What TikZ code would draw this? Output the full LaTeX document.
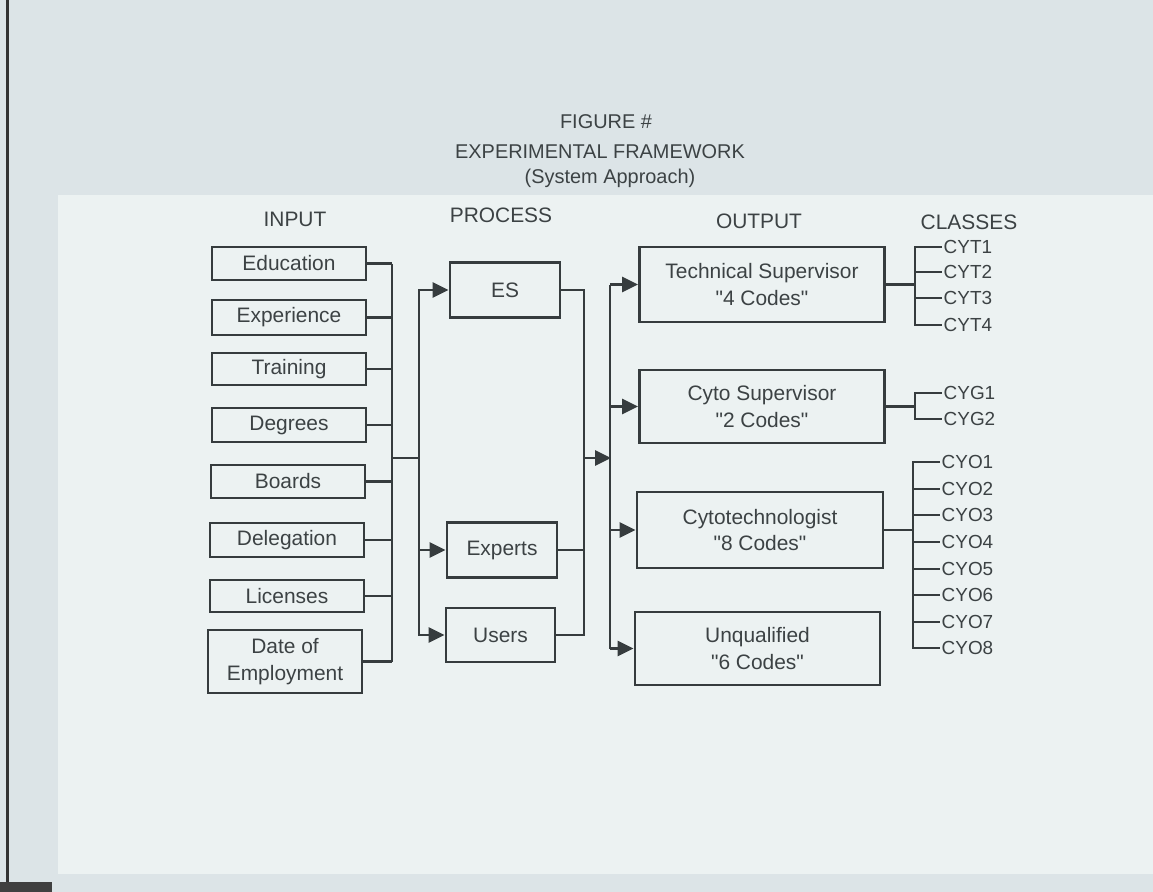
\documentclass[tikz,border=0pt]{standalone}
\usepackage{fontspec}
\setmainfont{Liberation Sans}
\usetikzlibrary{arrows.meta}
\definecolor{ink}{HTML}{363C3E}
\definecolor{txt}{HTML}{3C4244}
\definecolor{paperA}{HTML}{DCE4E7}
\definecolor{paperB}{HTML}{ECF2F2}
\newcommand{\qq}[1]{\textquotedbl#1\textquotedbl}
\begin{document}
\begin{tikzpicture}[x=1bp,y=-1bp,
  box/.style={draw=ink,line width=2.8bp,text=txt,align=center,inner sep=0pt,font=\fontsize{21}{27}\selectfont},
  hdr/.style={text=txt,inner sep=0pt,font=\fontsize{21}{25}\selectfont},
  ttl/.style={text=txt,inner sep=0pt,font=\fontsize{20}{24}\selectfont},
  cls/.style={text=txt,anchor=west,inner sep=1.5bp,font=\fontsize{19}{22}\selectfont},
  ln/.style={draw=ink,line width=2.8bp},
  arr/.style={ln,-{Triangle[length=16bp,width=15bp]}}]
\useasboundingbox (0,0) rectangle (1153,892);
% paper
\fill[paperA] (0,0) rectangle (1153,892);
\fill[paperB] (58,195) rectangle (1153,874);
\fill[black!80] (6,0) rectangle (9,882);
\fill[black!75] (0,882) rectangle (52,892);

% title
\node[ttl] (fig) at (606,122) {FIGURE \#};
\node[ttl] (exp) at (600,152) {EXPERIMENTAL FRAMEWORK};
\node[ttl] (sys) at (610,178) {(System Approach)};

% headers
\node[hdr] (hin) at (295,219) {INPUT};
\node[hdr] (hpr) at (501,215) {PROCESS};
\node[hdr] (hout) at (759,221) {OUTPUT};
\node[hdr] (hcl) at (969,222) {CLASSES};

% inputs
\node[box,minimum width=154bp,minimum height=33bp] (edu) at (289,263.5) {Education};
\node[box,minimum width=154bp,minimum height=35bp] (expe) at (289,317.5) {Experience};
\node[box,minimum width=154bp,minimum height=32bp] (trn) at (289,369) {Training};
\node[box,minimum width=154bp,minimum height=34bp] (deg) at (289,425) {Degrees};
\node[box,minimum width=154bp,minimum height=33bp] (brd) at (288,481.5) {Boards};
\node[box,minimum width=154bp,minimum height=34bp] (del) at (287,540) {Delegation};
\node[box,minimum width=154bp,minimum height=32bp] (lic) at (287,596) {Licenses};
\node[box,minimum width=154bp,minimum height=63bp] (doe) at (285,661.5) {Date of\\Employment};

\coordinate (bus) at (392,0);
\foreach \n in {edu,expe,trn,deg,brd,del,lic,doe}{
  \draw[ln] (\n.east) -- (\n.east -| bus);
}
\draw[ln] (edu.east -| bus) -- (doe.east -| bus);
\coordinate (j1) at (392,458);
\coordinate (j2) at (419,458);
\draw[ln] (j1) -- (j2);

% process
\node[box,minimum width=110bp,minimum height=55bp] (es) at (505,290) {ES};
\node[box,minimum width=110bp,minimum height=55bp] (xp) at (502,550) {Experts};
\node[box,minimum width=109bp,minimum height=54bp] (us) at (500.5,635) {Users};

\draw[arr] (j2) |- (es.west);
\draw[arr] (j2) |- (us.west);
\draw[arr] (j2 |- xp.west) -- (xp.west);

\coordinate (pb) at (584,0);
\draw[ln] (es.east) -| (pb |- us.east) -- (us.east);
\draw[ln] (xp.east) -- (xp.east -| pb);
\coordinate (j3) at (584,458);
\coordinate (j4) at (611,458);
\draw[arr] (j3) -- (j4);

% outputs
\node[box,minimum width=245bp,minimum height=75bp] (tech) at (762,284.5) {Technical Supervisor\\\qq{4 Codes}};
\node[box,minimum width=245bp,minimum height=73bp] (csup) at (762,406.5) {Cyto Supervisor\\\qq{2 Codes}};
\node[box,minimum width=246bp,minimum height=76bp] (ctec) at (760,530) {Cytotechnologist\\\qq{8 Codes}};
\node[box,minimum width=245bp,minimum height=73bp] (unq) at (757.5,648.5) {Unqualified\\\qq{6 Codes}};

\coordinate (ob) at (610,0);
\draw[ln] (tech.west -| ob) -- (unq.west -| ob);
\foreach \n in {tech,csup,ctec,unq}{
  \draw[arr] (\n.west -| ob) -- (\n.west);
}

% classes
\coordinate (cb) at (915,0);
\node[cls] (cyt1) at (942,247) {CYT1};
\node[cls] (cyt2) at (942,272) {CYT2};
\node[cls] (cyt3) at (942,298) {CYT3};
\node[cls] (cyt4) at (942,325) {CYT4};
\draw[ln] (tech.east) -- (tech.east -| cb);
\draw[ln] (cyt1.west) -| (cb |- cyt4.west) -- (cyt4.west);
\foreach \n in {cyt2,cyt3}{\draw[ln] (cb |- \n.west) -- (\n.west);}

\node[cls] (cyg1) at (942,393) {CYG1};
\node[cls] (cyg2) at (942,419) {CYG2};
\draw[ln] (csup.east) -- (csup.east -| cb);
\draw[ln] (cyg1.west) -| (cb |- cyg2.west) -- (cyg2.west);

\coordinate (cb2) at (913,0);
\node[cls] (cyo1) at (940,462) {CYO1};
\node[cls] (cyo2) at (940,489) {CYO2};
\node[cls] (cyo3) at (940,515) {CYO3};
\node[cls] (cyo4) at (940,542) {CYO4};
\node[cls] (cyo5) at (940,569) {CYO5};
\node[cls] (cyo6) at (940,595) {CYO6};
\node[cls] (cyo7) at (940,622) {CYO7};
\node[cls] (cyo8) at (940,648) {CYO8};
\draw[ln] (ctec.east) -- (ctec.east -| cb2);
\draw[ln] (cyo1.west) -| (cb2 |- cyo8.west) -- (cyo8.west);
\foreach \n in {cyo2,cyo3,cyo4,cyo5,cyo6,cyo7}{\draw[ln] (cb2 |- \n.west) -- (\n.west);}
\end{tikzpicture}
\end{document}
